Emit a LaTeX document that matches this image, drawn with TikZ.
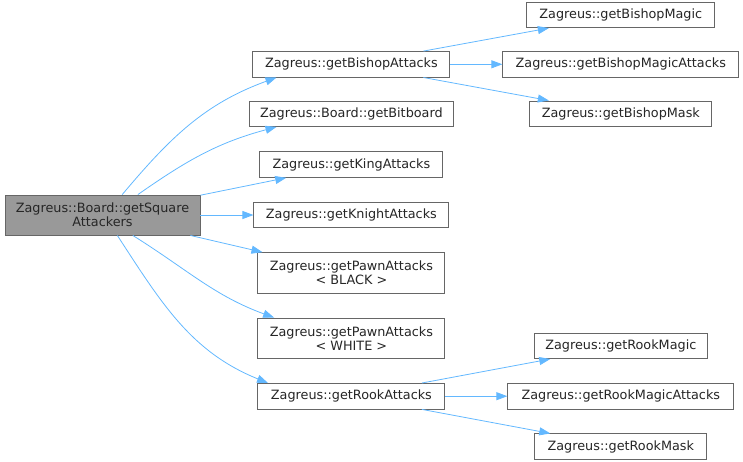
\documentclass[tikz,border=0pt]{standalone}
\usepackage{fontspec}
\setmainfont{DejaVu Sans}
\usepackage{xcolor}
\usepackage{tikz}
\usetikzlibrary{arrows.meta, positioning}

\definecolor{edgeblue}{HTML}{63B8FF}
\definecolor{boxline}{HTML}{666666}
\definecolor{rootfill}{HTML}{999999}

\begin{document}
\begin{tikzpicture}[
  font=\fontsize{12.8}{14}\selectfont,
  fn/.style={draw=boxline, line width=0.9pt, fill=white, minimum height=25.5pt,
             inner xsep=2pt, inner ysep=1pt, align=center, text=black!85},
  rootbox/.style={fn, fill=rootfill, minimum height=40pt, minimum width=195pt},
  twoline/.style={fn, minimum height=40.5pt},
  arrow/.style={-{Triangle[length=11pt,width=8pt]}, draw=edgeblue, line width=0.8pt},
]
\useasboundingbox (-102.5pt,-246pt) rectangle (640.5pt,215pt);

% Caller
\node[rootbox] (root) {Zagreus::Board::getSquare\\Attackers};

% Direct callees
\node[fn, right=53pt of root, minimum width=195pt] (knight) {Zagreus::getKnightAttacks};
\node[fn, above=24pt of knight, minimum width=183pt] (king) {Zagreus::getKingAttacks};
\node[fn, above=24.5pt of king, minimum width=204pt] (bitboard) {Zagreus::Board::getBitboard};
\node[fn, above=23pt of bitboard, minimum width=197pt] (bishop) {Zagreus::getBishopAttacks};
\node[twoline, below=24pt of knight, minimum width=187pt] (pawnblack)
  {Zagreus::getPawnAttacks\\< BLACK >};
\node[twoline, below=24pt of pawnblack, minimum width=187pt] (pawnwhite)
  {Zagreus::getPawnAttacks\\< WHITE >};
\node[fn, below=24pt of pawnwhite, minimum width=187pt] (rook) {Zagreus::getRookAttacks};

% Bishop helpers
\node[fn, right=52pt of bishop, minimum width=236pt] (bmagicatt) {Zagreus::getBishopMagicAttacks};
\node[fn, above=23pt of bmagicatt, minimum width=188pt] (bmagic) {Zagreus::getBishopMagic};
\node[fn, below=23pt of bmagicatt, minimum width=182pt] (bmask) {Zagreus::getBishopMask};

% Rook helpers
\node[fn, right=62pt of rook, minimum width=226pt] (rmagicatt) {Zagreus::getRookMagicAttacks};
\node[fn, above=24pt of rmagicatt, minimum width=173pt] (rmagic) {Zagreus::getRookMagic};
\node[fn, below=24pt of rmagicatt, minimum width=172pt] (rmask) {Zagreus::getRookMask};

% Calls from the caller
\draw[arrow] (root.46) to[out=50, in=200] (bishop.190);
\draw[arrow] (root.30) to[out=35, in=195] (bitboard.190);
\draw[arrow] (root) -- (king);
\draw[arrow] (root) -- (knight);
\draw[arrow] (root) -- (pawnblack);
\draw[arrow] (root.326) to[out=-32, in=160] (pawnwhite.165);
\draw[arrow] (root.306) to[out=-57, in=158] (rook.171);

% Second level
\foreach \dst in {bmagic, bmagicatt, bmask} {
  \draw[arrow] (bishop) -- (\dst);
}
\foreach \dst in {rmagic, rmagicatt, rmask} {
  \draw[arrow] (rook) -- (\dst);
}
\end{tikzpicture}
\end{document}
